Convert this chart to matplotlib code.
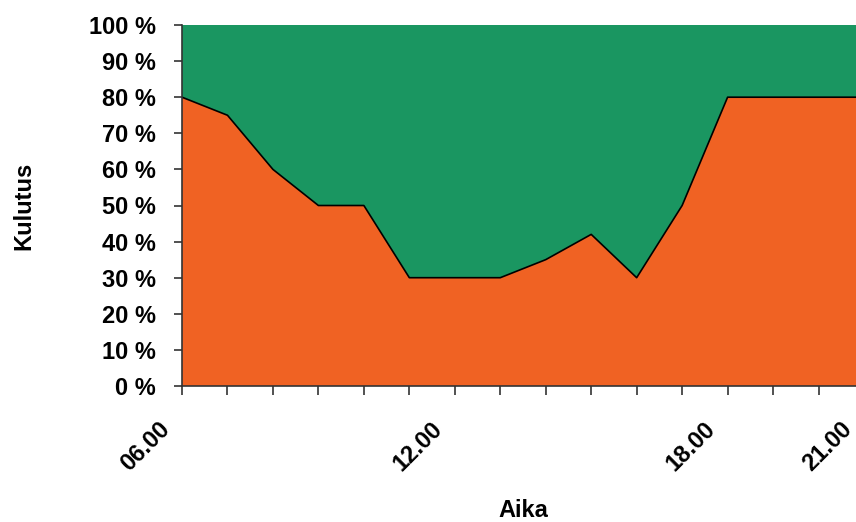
import matplotlib.pyplot as plt
import matplotlib.transforms as mtransforms
import numpy as np

plt.rcParams['font.family'] = ['Liberation Sans', 'DejaVu Sans']

# hourly share (%) from 06.00 to 21.00
hours = ['06.00', '07.00', '08.00', '09.00', '10.00', '11.00', '12.00', '13.00',
         '14.00', '15.00', '16.00', '17.00', '18.00', '19.00', '20.00', '21.00']
share = [80, 75, 60, 50, 50, 30, 30, 30, 35, 42, 30, 50, 80, 80, 80, 80]
shown_labels = ['06.00', '12.00', '18.00', '21.00']

orange = '#F06223'
green = '#1A9661'

rest = [100 - v for v in share]
x = np.arange(len(hours))

fig = plt.figure(figsize=(8.56, 5.22), dpi=100)
# axes run a bit past the right edge, like the cropped original
ax = fig.add_axes([182 / 856, 1 - 386 / 522, (864 - 182) / 856, 361 / 522])

ax.stackplot(x, share, rest, colors=[orange, green], linewidth=0)
ax.plot(x, share, color='black', linewidth=1.2)

ax.set_xlim(0, len(hours) - 1)
ax.set_ylim(0, 100)

ax.set_yticks(range(0, 101, 10))
ax.set_yticklabels([f'{v} %' for v in range(0, 101, 10)],
                   fontsize=17, fontweight='bold')
ax.set_xticks(x)
ax.set_xticklabels([h if h in shown_labels else '' for h in hours],
                   fontsize=17, fontweight='bold', rotation=45,
                   ha='right', rotation_mode='anchor')

ax.tick_params(axis='y', length=6, width=1.2, color='#333333', pad=13)
ax.tick_params(axis='x', length=6.5, width=1.2, color='#333333', pad=16)

# nudge the rotated hour labels left so they end just before their tick
shift = mtransforms.ScaledTranslation(-0.24, 0, fig.dpi_scale_trans)
for lab in ax.get_xticklabels():
    lab.set_transform(lab.get_transform() + shift)

for side in ['top', 'right']:
    ax.spines[side].set_visible(False)
for side in ['left', 'bottom']:
    ax.spines[side].set_color('#333333')
    ax.spines[side].set_linewidth(1.2)

ax.set_ylabel('Kulutus', fontsize=17, fontweight='bold', labelpad=38)
ax.set_xlabel('Aika', fontsize=17, fontweight='bold', labelpad=17)

fig.savefig('out.png', dpi=100)
